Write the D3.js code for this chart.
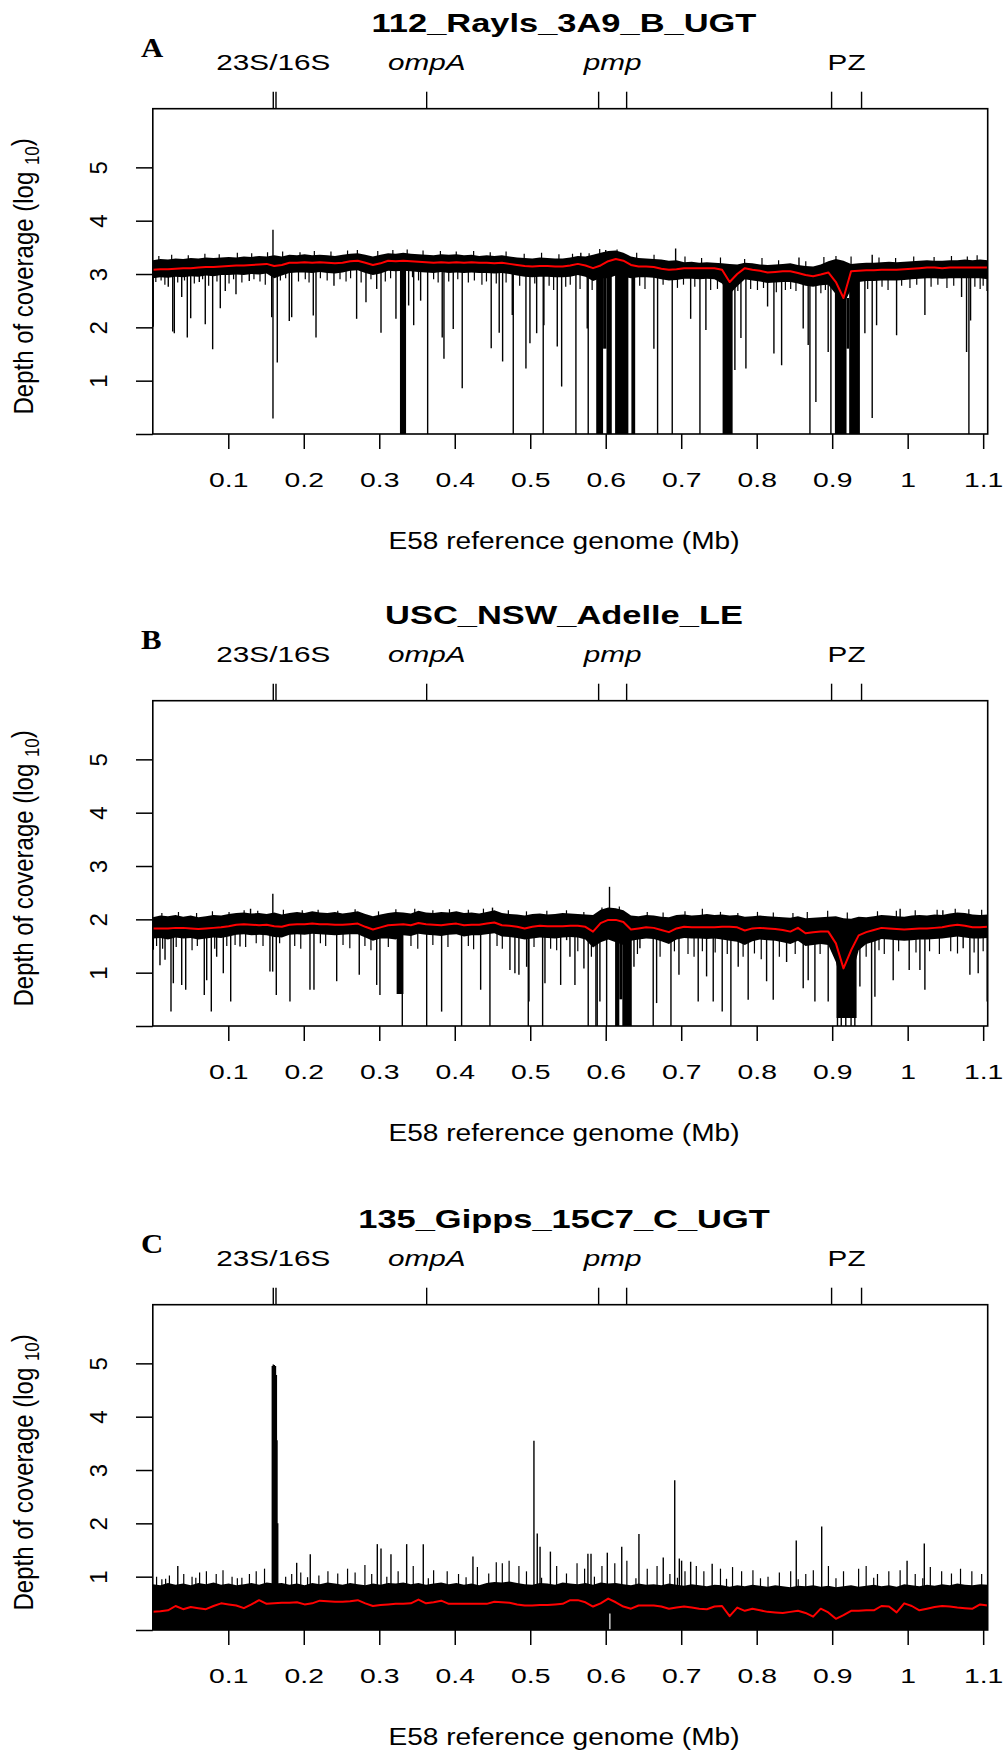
<!DOCTYPE html>
<html>
<head>
<meta charset="utf-8">
<script src="https://cdn.jsdelivr.net/npm/d3@7"></script>
<style>
body { margin: 0; background: #ffffff; }
svg { display: block; }
</style>
</head>
<body>
<div id="canvas"></div>
<script>
// ----------------------------------------------------------
// DATA -----------------------------------------------------
// ----------------------------------------------------------
var genome_length_mb = 1.106;

var x_tick_values = [0.1, 0.2, 0.3, 0.4, 0.5, 0.6, 0.7, 0.8, 0.9, 1.0, 1.1];
var x_tick_labels = ["0.1", "0.2", "0.3", "0.4", "0.5", "0.6", "0.7", "0.8", "0.9", "1", "1.1"];
var y_tick_values = [0, 1, 2, 3, 4, 5];
var y_tick_labels = ["", "1", "2", "3", "4", "5"];

var feature_labels = ["23S/16S", "ompA", "pmp", "PZ"];
var feature_italic = [false, true, true, false];
var feature_positions = [[0.1596, 0.1632], [0.3628], [0.5906, 0.6277], [0.8992, 0.9389]];

var panel_titles = ["112_Rayls_3A9_B_UGT", "USC_NSW_Adelle_LE", "135_Gipps_15C7_C_UGT"];
var panel_letters = ["A", "B", "C"];

// panel A : log10 depth, evenly spaced windows from 0 to genome end
var red_A = [3.08,3.09,3.09,3.10,3.11,3.11,3.12,3.13,3.13,3.14,
3.15,3.16,3.16,3.17,3.18,3.19,3.15,3.17,3.21,3.21,
3.22,3.21,3.22,3.21,3.20,3.21,3.24,3.25,3.21,3.17,
3.20,3.25,3.24,3.25,3.24,3.23,3.22,3.21,3.22,3.21,
3.22,3.21,3.22,3.21,3.21,3.20,3.21,3.19,3.17,3.15,
3.14,3.15,3.15,3.14,3.14,3.16,3.19,3.16,3.11,3.16,
3.24,3.28,3.25,3.17,3.14,3.14,3.13,3.10,3.08,3.09,
3.11,3.11,3.11,3.11,3.11,3.08,2.85,3.00,3.11,3.08,
3.06,3.03,3.04,3.05,3.05,3.02,2.98,2.96,2.99,3.03,
2.85,2.55,3.05,3.06,3.07,3.07,3.08,3.08,3.08,3.09,
3.10,3.11,3.12,3.12,3.11,3.12,3.12,3.12,3.12,3.12,3.12];
var top_A = [3.26,3.28,3.27,3.29,3.28,3.30,3.29,3.31,3.30,3.31,
3.32,3.31,3.33,3.32,3.34,3.33,3.35,3.33,3.36,3.35,
3.37,3.35,3.36,3.35,3.34,3.36,3.38,3.39,3.36,3.33,
3.36,3.39,3.38,3.40,3.38,3.37,3.36,3.35,3.37,3.36,
3.37,3.35,3.36,3.34,3.35,3.34,3.35,3.33,3.31,3.30,
3.29,3.31,3.30,3.29,3.29,3.31,3.34,3.33,3.36,3.40,
3.43,3.44,3.40,3.33,3.30,3.29,3.28,3.27,3.25,3.26,
3.22,3.23,3.21,3.22,3.21,3.20,3.19,3.18,3.21,3.20,
3.18,3.17,3.18,3.19,3.20,3.17,3.15,3.14,3.18,3.24,
3.28,3.25,3.19,3.20,3.21,3.21,3.22,3.23,3.22,3.23,
3.24,3.25,3.26,3.25,3.25,3.26,3.26,3.27,3.26,3.27,3.26];
var bottom_A = [2.92,2.94,2.93,2.95,2.94,2.96,2.95,2.97,2.96,2.98,
2.98,2.99,2.98,3.00,2.99,3.01,2.92,2.97,3.02,3.03,
3.03,3.02,3.04,3.02,3.01,3.03,3.06,3.07,3.02,2.98,
3.01,3.06,3.05,3.06,3.05,3.04,3.03,3.02,3.04,3.02,
3.03,3.02,3.03,3.02,3.02,3.01,3.02,3.00,2.97,2.95,
2.94,2.95,2.95,2.94,2.94,2.95,2.98,2.95,2.87,2.92,
2.92,2.97,2.95,2.92,2.94,2.94,2.93,2.90,2.88,2.89,
2.91,2.91,2.90,2.91,2.90,2.82,2.62,2.77,2.90,2.88,
2.86,2.83,2.84,2.85,2.85,2.82,2.78,2.76,2.79,2.80,
2.62,2.42,2.72,2.85,2.87,2.87,2.88,2.88,2.88,2.89,
2.90,2.91,2.92,2.92,2.91,2.92,2.92,2.92,2.92,2.92,2.90];
// [position Mb, lowest log10 depth]
var dips_A = [[0.0005,2.01],[0.0205,2.76],[0.0264,1.92],[0.0285,1.89],[0.0383,2.57],[0.0457,1.81],[0.0502,2.17],
[0.0616,2.85],[0.0695,2.06],[0.0793,1.59],[0.0894,2.36],[0.096,2.68],[0.1102,2.62],[0.1278,2.87],
[0.1575,2.19],[0.1592,0.29],[0.1649,1.34],[0.1808,2.12],[0.184,2.19],[0.2126,2.22],[0.2162,1.81],
[0.24,2.78],[0.27,2.16],[0.2824,2.47],[0.2966,2.72],[0.3023,1.9],[0.3221,2.16],[0.3389,2.41],
[0.3456,2.04],[0.3548,2.5],[0.3641,0],[0.3834,1.81],[0.3857,1.41],[0.398,1.97],[0.4099,0.86],
[0.4483,1.61],[0.4589,1.9],[0.4634,1.36],[0.4762,2.23],[0.4775,0],[0.4943,1.23],[0.4996,1.7],
[0.5085,1.89],[0.5172,0],[0.5181,2.04],[0.5358,1.64],[0.5416,0.89],[0.5605,0],[0.5755,1.98],
[0.5768,0],[0.6364,0],[0.6638,1.6],[0.6687,0],[0.6881,0],[0.7125,2.16],[0.7248,0],[0.7327,1.95],
[0.7711,1.2],[0.7791,1.8],[0.7857,1.23],[0.8144,2.39],[0.8228,1.51],[0.833,1.29],[0.8616,1.98],
[0.8682,1.67],[0.8705,0],[0.8784,0.6],[0.8947,1.54],[0.8983,0],[0.9433,1.89],[0.953,0.3],
[0.9588,2.04],[0.9853,1.85],[1.0228,2.23],[1.0714,2.57],[1.078,1.54],[1.0811,0],[1.0833,2.13],
[1.1052,2.68]];
// short ragged dips along the lower edge of the band
var fringe_A = [[0.004,2.85],[0.011,2.88],[0.016,2.80],[0.033,2.84],[0.042,2.88],[0.055,2.82],[0.066,2.9],
[0.074,2.78],[0.085,2.86],[0.101,2.82],[0.107,2.9],[0.118,2.84],[0.134,2.9],[0.142,2.86],[0.149,2.80],
[0.169,2.88],[0.176,2.92],[0.193,2.86],[0.202,2.9],[0.207,2.84],[0.222,2.92],[0.231,2.88],[0.248,2.9],
[0.256,2.86],[0.262,2.92],[0.276,2.84],[0.289,2.9],[0.308,2.86],[0.315,2.92],[0.344,2.94],[0.352,2.88],
[0.372,2.9],[0.378,2.84],[0.392,2.86],[0.404,2.9],[0.418,2.84],[0.426,2.88],[0.436,2.8],[0.442,2.86],
[0.455,2.82],[0.468,2.84],[0.486,2.78],[0.506,2.82],[0.525,2.78],[0.531,2.7],[0.547,2.76],[0.553,2.8],
[0.566,2.72],[0.582,2.7],[0.645,2.78],[0.652,2.72],[0.676,2.8],[0.695,2.74],[0.703,2.8],[0.718,2.76],
[0.739,2.7],[0.748,2.72],[0.775,2.68],[0.792,2.72],[0.801,2.7],[0.809,2.74],[0.826,2.66],[0.838,2.7],
[0.845,2.72],[0.852,2.68],[0.885,2.64],[0.891,2.7],[0.947,2.72],[0.966,2.76],[0.974,2.7],[0.992,2.78],
[1.003,2.74],[1.012,2.8],[1.031,2.76],[1.04,2.8],[1.052,2.74],[1.061,2.78],[1.089,2.76],[1.096,2.72],[1.1,2.78]];
// [start Mb, end Mb, lowest log10 depth]
var blocks_A = [[0.3274,0.3355,0],[0.5874,0.5965,0],[0.5965,0.601,1.6],[0.601,0.608,0],
[0.6124,0.630,0],[0.634,0.639,0],[0.7548,0.7681,0],[0.9036,0.919,0],[0.919,0.9225,1.6],[0.9225,0.9367,0]];
var peaks_A = [[0.1592,3.83],[0.6926,3.48],[0.856,3.31],[0.953,3.36],[0.567,3.40],[0.600,3.45]];
var hairs_A = [[0.008,3.34],[0.025,3.36],[0.047,3.35],[0.069,3.38],[0.088,3.37],[0.112,3.40],[0.131,3.39],
[0.152,3.41],[0.172,3.42],[0.195,3.41],[0.214,3.43],[0.236,3.42],[0.258,3.44],[0.271,3.45],[0.298,3.43],
[0.318,3.45],[0.337,3.46],[0.358,3.44],[0.381,3.43],[0.402,3.42],[0.425,3.43],[0.447,3.41],[0.468,3.42],
[0.492,3.38],[0.515,3.40],[0.538,3.37],[0.556,3.38],[0.578,3.39],[0.592,3.47],[0.615,3.46],[0.641,3.40],
[0.664,3.36],[0.705,3.33],[0.727,3.30],[0.752,3.31],[0.784,3.28],[0.807,3.30],[0.829,3.26],[0.865,3.24],
[0.889,3.32],[0.905,3.34],[0.925,3.33],[0.962,3.31],[0.984,3.30],[1.008,3.33],[1.035,3.32],[1.058,3.34],
[1.079,3.33],[1.092,3.35]];

// panel B
var red_B = [1.83,1.83,1.83,1.84,1.84,1.83,1.82,1.83,1.84,1.85,
1.87,1.90,1.91,1.90,1.89,1.90,1.87,1.86,1.90,1.91,
1.91,1.92,1.91,1.91,1.90,1.90,1.91,1.92,1.86,1.81,
1.85,1.89,1.90,1.91,1.89,1.93,1.91,1.90,1.89,1.91,
1.92,1.89,1.90,1.90,1.92,1.94,1.89,1.88,1.86,1.83,
1.86,1.88,1.87,1.87,1.87,1.88,1.88,1.86,1.77,1.93,
1.99,1.99,1.95,1.81,1.83,1.85,1.84,1.80,1.76,1.83,
1.86,1.85,1.85,1.85,1.85,1.86,1.86,1.85,1.79,1.83,
1.84,1.83,1.82,1.80,1.77,1.84,1.74,1.76,1.77,1.77,
1.55,1.08,1.42,1.70,1.76,1.80,1.84,1.83,1.82,1.81,
1.82,1.83,1.83,1.84,1.85,1.88,1.90,1.88,1.85,1.85,1.86];
var top_B = [2.04,2.07,2.06,2.08,2.05,2.07,2.04,2.06,2.08,2.07,
2.10,2.12,2.13,2.11,2.12,2.10,2.13,2.09,2.12,2.14,
2.12,2.15,2.13,2.12,2.14,2.11,2.13,2.15,2.10,2.06,
2.09,2.12,2.14,2.13,2.11,2.16,2.13,2.12,2.14,2.13,
2.15,2.12,2.13,2.11,2.14,2.17,2.12,2.10,2.09,2.07,
2.10,2.11,2.09,2.10,2.12,2.11,2.10,2.09,2.08,2.18,
2.22,2.21,2.17,2.07,2.06,2.08,2.07,2.05,2.04,2.08,
2.09,2.07,2.08,2.10,2.08,2.09,2.07,2.08,2.05,2.06,
2.07,2.06,2.05,2.04,2.03,2.06,2.02,2.03,2.04,2.05,
2.06,2.02,2.01,2.05,2.04,2.06,2.08,2.07,2.06,2.05,
2.07,2.08,2.07,2.09,2.08,2.11,2.13,2.12,2.09,2.08,2.09];
var bottom_B = [1.64,1.65,1.62,1.66,1.64,1.65,1.62,1.64,1.66,1.65,
1.68,1.71,1.72,1.70,1.71,1.70,1.67,1.66,1.71,1.72,
1.71,1.73,1.72,1.71,1.70,1.71,1.72,1.72,1.66,1.60,
1.64,1.64,1.62,1.70,1.69,1.73,1.71,1.70,1.69,1.71,
1.72,1.68,1.70,1.70,1.72,1.74,1.68,1.67,1.65,1.62,
1.64,1.66,1.65,1.64,1.66,1.67,1.66,1.62,1.47,1.57,
1.62,1.57,1.52,1.60,1.62,1.64,1.63,1.59,1.54,1.62,
1.65,1.64,1.64,1.63,1.64,1.62,1.60,1.58,1.52,1.59,
1.62,1.61,1.60,1.57,1.54,1.60,1.50,1.52,1.54,1.52,
1.20,0.60,0.90,1.42,1.54,1.58,1.63,1.62,1.61,1.60,
1.61,1.62,1.62,1.63,1.64,1.66,1.68,1.66,1.64,1.64,1.65];
var dips_B = [[0.0007,1.43],[0.0095,1.14],[0.0162,1.24],[0.0241,0.27],[0.0272,0.8],[0.0383,0.77],[0.0436,0.68],
[0.0682,0.58],[0.0714,0.86],[0.0775,0.27],[0.0846,1.3],[0.0934,0.99],[0.1032,0.46],[0.1155,1.49],
[0.1552,1.02],[0.1588,1.02],[0.1636,0.58],[0.1817,0.46],[0.2082,0.68],[0.2135,0.68],[0.2436,0.84],
[0.2735,0.96],[0.2966,0.77],[0.3009,0.58],[0.3305,0],[0.3628,0],[0.3826,0.27],[0.4091,0],
[0.4343,0.68],[0.4466,0],[0.4731,1.05],[0.4797,0.99],[0.485,0.96],[0.4952,1.11],[0.4974,0],
[0.4983,0.46],[0.5164,0],[0.5195,0.8],[0.5403,0.77],[0.5482,1.61],[0.5526,1.3],[0.5592,0.77],
[0.5711,1.08],[0.5768,0],[0.587,0],[0.5887,0],[0.5923,0.46],[0.6012,0],[0.6374,1.11],[0.6453,1.46],
[0.6629,0],[0.6674,0.43],[0.6864,0],[0.697,0.96],[0.7225,0.46],[0.7336,0.93],[0.7424,0.46],
[0.7543,0.27],[0.7658,0],[0.7755,1.11],[0.7887,0.49],[0.8131,0.84],[0.8219,0.49],[0.8396,1.2],
[0.8616,0.71],[0.8682,0.86],[0.8771,0.46],[0.8947,0.46],[0.907,0],[0.912,0],[0.918,0],[0.925,0],
[0.93,0],[0.9367,0.74],[0.9522,0],[0.9566,0.55],[0.9808,0.86],[1.002,1.05],[1.0162,1.05],
[1.0228,0.68],[1.0735,1.46],[1.0824,0.96],[1.0934,0.99],[1.1053,0.46]];
var fringe_B = [[0.005,1.5],[0.013,1.45],[0.031,1.48],[0.052,1.42],[0.059,1.5],[0.082,1.45],[0.098,1.5],
[0.109,1.52],[0.123,1.48],[0.137,1.55],[0.146,1.5],[0.168,1.55],[0.188,1.5],[0.196,1.45],[0.222,1.55],
[0.229,1.5],[0.252,1.52],[0.261,1.46],[0.281,1.5],[0.289,1.42],[0.312,1.48],[0.342,1.5],[0.351,1.45],
[0.371,1.52],[0.391,1.48],[0.418,1.5],[0.425,1.44],[0.456,1.5],[0.463,1.45],[0.505,1.48],[0.527,1.45],
[0.535,1.42],[0.563,1.4],[0.581,1.3],[0.626,1.2],[0.642,1.35],[0.672,1.3],[0.691,1.4],[0.709,1.35],
[0.717,1.3],[0.728,1.4],[0.745,1.38],[0.761,1.35],[0.782,1.3],[0.797,1.36],[0.806,1.25],[0.83,1.3],
[0.851,1.35],[0.884,1.35],[0.945,1.3],[0.962,1.42],[0.969,1.35],[0.988,1.4],[1.011,1.38],[1.029,1.4],
[1.042,1.35],[1.057,1.4],[1.066,1.36],[1.088,1.38],[1.1,1.4]];
var blocks_B = [[0.323,0.332,0.6],[0.6124,0.618,0],[0.618,0.622,0.5],[0.622,0.6345,0],[0.9058,0.9323,0.15]];
var peaks_B = [[0.159,2.48],[0.605,2.61],[1.0466,2.17],[0.1295,2.2],[0.45,2.22],[0.99,2.2]];
var hairs_B = [[0.012,2.12],[0.034,2.14],[0.058,2.12],[0.079,2.15],[0.101,2.14],[0.121,2.17],[0.139,2.16],
[0.173,2.18],[0.198,2.17],[0.219,2.18],[0.245,2.16],[0.268,2.19],[0.299,2.15],[0.322,2.19],[0.347,2.2],
[0.371,2.17],[0.393,2.19],[0.418,2.18],[0.438,2.2],[0.471,2.17],[0.495,2.15],[0.522,2.16],[0.548,2.17],
[0.571,2.14],[0.595,2.22],[0.618,2.24],[0.655,2.14],[0.676,2.13],[0.705,2.15],[0.728,2.2],[0.752,2.14],
[0.775,2.12],[0.801,2.14],[0.822,2.13],[0.848,2.12],[0.867,2.14],[0.894,2.16],[0.92,2.13],[0.96,2.15],
[0.985,2.16],[1.01,2.17],[1.039,2.18],[1.063,2.2],[1.081,2.19],[1.098,2.18]];

// panel C
var red_C = [0.34,0.35,0.37,0.45,0.39,0.43,0.41,0.39,0.45,0.50,
0.48,0.46,0.41,0.48,0.56,0.49,0.50,0.51,0.51,0.52,
0.48,0.50,0.55,0.54,0.53,0.53,0.54,0.56,0.50,0.45,
0.47,0.48,0.49,0.49,0.50,0.57,0.50,0.52,0.55,0.49,
0.49,0.49,0.49,0.49,0.49,0.53,0.52,0.51,0.48,0.46,
0.46,0.47,0.47,0.48,0.49,0.56,0.56,0.52,0.44,0.50,
0.59,0.52,0.44,0.40,0.46,0.46,0.46,0.44,0.40,0.42,
0.44,0.42,0.40,0.39,0.44,0.45,0.26,0.42,0.36,0.40,
0.37,0.34,0.33,0.32,0.34,0.36,0.32,0.25,0.40,0.33,
0.21,0.28,0.36,0.36,0.37,0.37,0.45,0.44,0.33,0.50,
0.45,0.37,0.40,0.43,0.45,0.44,0.42,0.41,0.40,0.48,0.46];
var top_C = [0.86,0.84,0.88,0.85,0.87,0.84,0.88,0.86,0.89,0.85,
0.87,0.84,0.86,0.88,0.85,0.89,0.87,0.88,0.85,0.87,
0.84,0.88,0.86,0.89,0.87,0.85,0.88,0.86,0.84,0.87,
0.85,0.88,0.87,0.89,0.86,0.88,0.85,0.87,0.89,0.86,
0.88,0.85,0.87,0.84,0.88,0.90,0.89,0.91,0.88,0.86,
0.85,0.88,0.87,0.85,0.89,0.87,0.86,0.88,0.85,0.89,
0.87,0.88,0.86,0.84,0.87,0.85,0.86,0.84,0.87,0.85,
0.83,0.86,0.84,0.82,0.85,0.84,0.81,0.84,0.82,0.85,
0.83,0.81,0.84,0.82,0.80,0.83,0.82,0.84,0.81,0.83,
0.80,0.82,0.84,0.81,0.83,0.85,0.82,0.84,0.81,0.86,
0.84,0.82,0.85,0.83,0.86,0.84,0.87,0.85,0.84,0.86,0.85];
var bottom_C = 0;
var peaks_C = [[0.1583,4.95],[0.1596,4.98],[0.1610,4.97],[0.1625,4.95],[0.1637,4.78],[0.1645,3.56],[0.1655,2.0],
[0.5049,3.55],[0.5093,1.81],[0.513,1.56],[0.5267,1.47],[0.6914,2.81],[0.6975,1.34],[0.644,1.8],
[0.6212,1.56],[0.6021,1.45],[0.5764,1.43],[0.5805,1.43],[0.8524,1.68],[0.8861,1.94],[1.022,1.62],
[0.9992,1.3],[0.741,1.24],[0.6762,1.36],[0.4241,1.38],[0.2974,1.61],[0.3023,1.53],[0.3155,1.42],
[0.3363,1.61],[0.3583,1.61],[0.1906,1.26],[0.2086,1.42],[0.0331,1.2],[0.7125,1.28],[0.7005,1.3]];
var hairs_C = [[0.005,1.0],[0.012,0.95],[0.022,1.02],[0.041,1.05],[0.052,1.0],[0.062,1.08],[0.071,1.1],
[0.084,1.05],[0.093,1.12],[0.105,1.0],[0.118,0.98],[0.128,1.05],[0.137,1.1],[0.148,1.15],[0.176,1.0],
[0.184,1.05],[0.196,1.08],[0.22,1.02],[0.232,1.1],[0.245,1.06],[0.258,1.15],[0.268,1.08],[0.281,1.22],
[0.29,1.05],[0.325,1.1],[0.345,1.2],[0.372,1.12],[0.39,1.1],[0.405,1.05],[0.43,1.18],[0.445,1.06],
[0.455,1.27],[0.463,1.25],[0.472,1.3],[0.485,1.2],[0.495,1.1],[0.535,1.2],[0.548,1.06],[0.562,1.25],
[0.572,1.15],[0.595,1.2],[0.612,1.25],[0.628,1.3],[0.655,1.15],[0.668,1.2],[0.685,1.05],[0.705,1.1],
[0.72,1.2],[0.73,1.1],[0.752,1.15],[0.768,1.18],[0.78,1.1],[0.795,1.12],[0.815,1.0],[0.83,1.08],
[0.845,1.1],[0.865,1.05],[0.875,1.12],[0.895,1.2],[0.915,1.1],[0.935,1.15],[0.945,1.2],[0.96,1.05],
[0.975,1.1],[0.99,1.12],[1.01,1.05],[1.03,1.18],[1.045,1.1],[1.058,1.06],[1.07,1.15],[1.085,1.1],[1.098,1.05],
[0.017,0.96],[0.057,0.98],[0.112,0.97],[0.205,0.99],[0.31,1.0],[0.365,0.97],[0.415,0.99],[0.515,0.98],
[0.585,1.0],[0.64,0.97],[0.695,0.98],[0.76,0.96],[0.805,0.97],[0.855,0.95],[0.905,0.97],[0.955,0.98],[1.02,0.97]];
var gaps_C = [[0.6055,0.31]];


// ----------------------------------------------------------
// LAYOUT ---------------------------------------------------
// ----------------------------------------------------------
var layout = {
container_width: 1004,
container_height: 1754,
plot_left: 152.8,
plot_right: 987.7,
plot_height: 325.3,
panel_bottoms: [434, 1026, 1630],
y_max: 6.1,
title_x: 564,
font_sans: "'Liberation Sans', Arial, Helvetica, sans-serif",
font_serif: "'Liberation Serif', 'Times New Roman', serif",
color_line: "#000000",
color_mean: "#ff0000"
};

var panels = [
{ red: red_A, top: top_A, bottom: bottom_A, dips: dips_A, fringe: fringe_A.concat(hairs_A), blocks: blocks_A, peaks: peaks_A, gaps: [] },
{ red: red_B, top: top_B, bottom: bottom_B, dips: dips_B, fringe: fringe_B.concat(hairs_B), blocks: blocks_B, peaks: peaks_B, gaps: [] },
{ red: red_C, top: top_C, bottom: bottom_C, dips: [], fringe: hairs_C, blocks: [], peaks: peaks_C, gaps: gaps_C }
];


// ----------------------------------------------------------
// STRUCTURE ------------------------------------------------
// ----------------------------------------------------------
var svg = d3.select("#canvas").append("svg")
.attr("width", layout.container_width)
.attr("height", layout.container_height)
.style("background-color", "#ffffff");

var x_scale = d3.scaleLinear()
.domain([0, genome_length_mb])
.range([layout.plot_left, layout.plot_right]);


// ----------------------------------------------------------
// GFX ------------------------------------------------------
// ----------------------------------------------------------
panels.forEach(function(p, k) {
var bottom_px = layout.panel_bottoms[k];
var top_px = bottom_px - layout.plot_height;

var y_scale = d3.scaleLinear()
.domain([0, layout.y_max])
.range([bottom_px, top_px]);

var n = p.red.length;
var step = genome_length_mb / (n - 1);
var pos = function(i) { return i * step; };
var idx = function(mb) { return Math.max(0, Math.min(n - 1, Math.round(mb / step))); };
var low = function(i) { return Array.isArray(p.bottom) ? p.bottom[i] : p.bottom; };

var panel_group = svg.append("g").attr("class", "panel_" + panel_letters[k]);

// clip to plot box
var clip_id = "clip_" + k;
panel_group.append("clipPath").attr("id", clip_id)
.append("rect")
.attr("x", layout.plot_left)
.attr("y", top_px)
.attr("width", layout.plot_right - layout.plot_left)
.attr("height", layout.plot_height);

var data_group = panel_group.append("g").attr("clip-path", "url(#" + clip_id + ")");

// dense coverage band
var band = d3.area()
.x(function(d, i) { return x_scale(pos(i)); })
.y0(function(d, i) { return y_scale(low(i)); })
.y1(function(d, i) { return y_scale(p.top[i]); });

data_group.append("path")
.datum(p.top)
.attr("d", band)
.attr("fill", layout.color_line);

// regions where coverage collapses
data_group.selectAll(".block")
.data(p.blocks)
.enter()
.append("rect")
.attr("class", "block")
.attr("x", function(d) { return x_scale(d[0]); })
.attr("width", function(d) { return x_scale(d[1]) - x_scale(d[0]); })
.attr("y", function(d) { return y_scale(p.red[idx(d[0])]); })
.attr("height", function(d) { return y_scale(d[2]) - y_scale(p.red[idx(d[0])]); })
.attr("fill", layout.color_line);

// short ragged edges of the band
data_group.selectAll(".fringe")
.data(p.fringe)
.enter()
.append("line")
.attr("class", "fringe")
.attr("x1", function(d) { return x_scale(d[0]); })
.attr("x2", function(d) { return x_scale(d[0]); })
.attr("y1", function(d) { return y_scale(p.red[idx(d[0])]); })
.attr("y2", function(d) { return y_scale(d[1]); })
.attr("stroke", layout.color_line)
.attr("stroke-width", 1.2);

// single downward and upward spikes
data_group.selectAll(".spike")
.data(p.dips.concat(p.peaks))
.enter()
.append("line")
.attr("class", "spike")
.attr("x1", function(d) { return x_scale(d[0]); })
.attr("x2", function(d) { return x_scale(d[0]); })
.attr("y1", function(d) { return y_scale(p.red[idx(d[0])]); })
.attr("y2", function(d) { return y_scale(d[1]); })
.attr("stroke", layout.color_line)
.attr("stroke-width", 1.4);

// white notches
data_group.selectAll(".gap")
.data(p.gaps)
.enter()
.append("line")
.attr("x1", function(d) { return x_scale(d[0]); })
.attr("x2", function(d) { return x_scale(d[0]); })
.attr("y1", y_scale(0))
.attr("y2", function(d) { return y_scale(d[1]); })
.attr("stroke", "#ffffff")
.attr("stroke-width", 1.2);

// smoothed depth
var mean_line = d3.line()
.x(function(d, i) { return x_scale(pos(i)); })
.y(function(d) { return y_scale(d); });

data_group.append("path")
.datum(p.red)
.attr("d", mean_line)
.attr("fill", "none")
.attr("stroke", layout.color_mean)
.attr("stroke-width", 2)
.attr("stroke-linejoin", "round");

// box
panel_group.append("rect")
.attr("x", layout.plot_left)
.attr("y", top_px)
.attr("width", layout.plot_right - layout.plot_left)
.attr("height", layout.plot_height)
.attr("fill", "none")
.attr("stroke", layout.color_line)
.attr("stroke-width", 1.6);

// x axis
var x_axis = panel_group.append("g")
.attr("transform", "translate(0," + bottom_px + ")")
.call(d3.axisBottom(x_scale)
.tickValues(x_tick_values)
.tickFormat(function(d, i) { return x_tick_labels[i]; })
.tickSize(15)
.tickPadding(23));
x_axis.select(".domain").remove();
x_axis.selectAll(".tick line").attr("stroke", layout.color_line).attr("stroke-width", 1.5);
x_axis.selectAll(".tick text")
.attr("fill", layout.color_line)
.style("font-family", layout.font_sans)
.style("font-size", "21px")
.attr("transform", "scale(1.35,1)");

// y axis
var y_axis = panel_group.append("g")
.attr("transform", "translate(" + layout.plot_left + ",0)")
.call(d3.axisLeft(y_scale)
.tickValues(y_tick_values)
.tickFormat(function(d, i) { return y_tick_labels[i]; })
.tickSize(16.8));
y_axis.select(".domain").remove();
y_axis.selectAll(".tick line").attr("stroke", layout.color_line).attr("stroke-width", 1.5);
y_axis.selectAll(".tick text")
.attr("x", 0).attr("dy", 0)
.attr("text-anchor", "middle")
.attr("fill", layout.color_line)
.style("font-family", layout.font_sans)
.style("font-size", "24px")
.attr("transform", "translate(-45.5,0) rotate(-90)");

// feature marks above box
feature_positions.forEach(function(list, f) {
list.forEach(function(mb) {
panel_group.append("line")
.attr("x1", x_scale(mb)).attr("x2", x_scale(mb))
.attr("y1", top_px - 17).attr("y2", top_px)
.attr("stroke", layout.color_line)
.attr("stroke-width", 1.4);
});
var centre = f === 0 ? x_scale(list[0]) : x_scale(d3.mean(list));
panel_group.append("text")
.attr("transform", "translate(" + centre + "," + (top_px - 38.7) + ") scale(1.35,1)")
.attr("text-anchor", "middle")
.style("font-family", layout.font_sans)
.style("font-size", "22px")
.style("font-style", feature_italic[f] ? "italic" : "normal")
.text(feature_labels[f]);
});

// title
panel_group.append("text")
.attr("transform", "translate(" + layout.title_x + "," + (top_px - 76.4) + ") scale(1.3,1)")
.attr("text-anchor", "middle")
.style("font-family", layout.font_sans)
.style("font-weight", "bold")
.style("font-size", "26.5px")
.text(panel_titles[k]);

// panel letter
panel_group.append("text")
.attr("transform", "translate(141," + (top_px - 52) + ") scale(1.1,1)")
.style("font-family", layout.font_serif)
.style("font-weight", "bold")
.style("font-size", "28px")
.text(panel_letters[k]);

// axis titles
panel_group.append("text")
.attr("transform", "translate(" + layout.title_x + "," + (bottom_px + 115.3) + ") scale(1.17,1)")
.attr("text-anchor", "middle")
.style("font-family", layout.font_sans)
.style("font-size", "24px")
.text("E58 reference genome (Mb)");

var y_title = panel_group.append("text")
.attr("transform", "translate(33.3," + ((top_px + bottom_px) / 2 + 5) + ") scale(1.15,1) rotate(-90)")
.attr("text-anchor", "middle")
.style("font-family", layout.font_sans)
.style("font-size", "24px");
y_title.append("tspan").text("Depth of coverage (log ");
y_title.append("tspan").attr("dy", "0.3em").style("font-size", "17px").text("10");
y_title.append("tspan").attr("dy", "-0.3em").text(")");
});
</script>
</body>
</html>
